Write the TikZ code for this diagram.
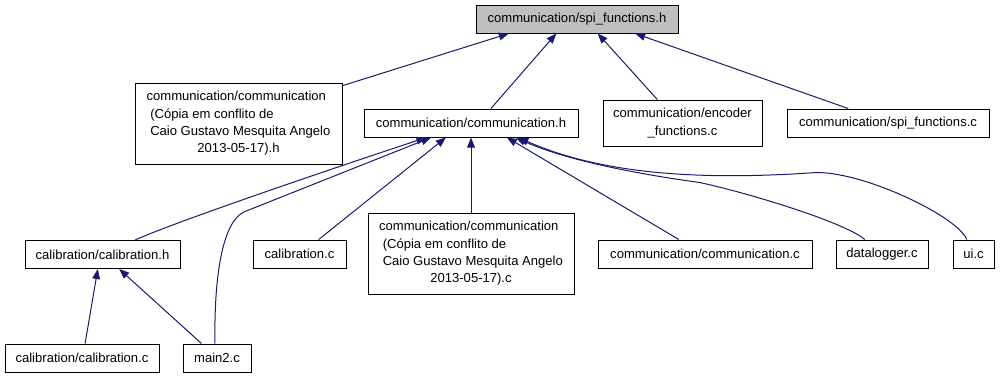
\documentclass[tikz,border=0pt]{standalone}
\usepackage{fontspec}
\newfontfamily\igfont{Liberation Sans}
\usetikzlibrary{arrows.meta}
\definecolor{igedge}{HTML}{191970}
\definecolor{igroot}{HTML}{BFBFBF}
\tikzset{
  igbox/.style={
    draw=black, fill=white, line width=0.75pt, inner sep=0pt,
    align=center, font=\igfont\fontsize{9.8}{13}\selectfont},
  igrow/.style={igbox, minimum height=21pt},
  igedge/.style={
    -{Triangle[length=7.5pt, width=5.8pt]}, draw=igedge,
    line width=0.75pt},
}
% Label of the two conflicted copies, only the extension differs.
\newcommand{\igcopy}[1]{%
  \begin{tabular}{@{}l@{}}
    communication/communication\\
    \ (Cópia em conflito de\\
    \ Caio Gustavo Mesquita Angelo\\
    \multicolumn{1}{@{}c@{}}{2013-05-17).#1}
  \end{tabular}}

\begin{document}
\begin{tikzpicture}[x=0.75pt, y=-0.75pt]
\useasboundingbox (0,0) rectangle (1001,379);

% The header under study.
\node[igrow, fill=igroot, minimum width=151.5pt] (spih) at (577,19)
  {communication/spi\_functions.h};

% Files that include it directly.
\node[igbox, minimum width=155.25pt, minimum height=60.75pt]
  (copyh) at (238.5,123.5) {\igcopy{h}};
\node[igrow, minimum width=160.5pt] (commh) at (471,123)
  {communication/communication.h};
\node[igbox, minimum width=119.25pt, minimum height=34.5pt]
  (encoderc) at (682.5,123) {communication/encoder\\\_functions.c};
\node[igrow, minimum width=151.5pt] (spic) at (888,123)
  {communication/spi\_functions.c};

% Files that include communication.h.
\node[igrow, minimum width=116.25pt] (calh) at (102.5,254.5)
  {calibration/calibration.h};
\node[igrow, minimum width=69.75pt] (calc) at (299.5,254)
  {calibration.c};
\node[igbox, minimum width=154.5pt, minimum height=60.75pt]
  (copyc) at (471,253.5) {\igcopy{c}};
\node[igrow, minimum width=160.5pt] (commc) at (705,254)
  {communication/communication.c};
\node[igrow, minimum width=69pt] (loggerc) at (882,254)
  {datalogger.c};
\node[igrow, minimum width=30.75pt] (uic) at (973.5,254) {ui.c};

% Bottom row.
\node[igrow, minimum width=115.5pt] (calibc) at (82,358)
  {calibration/calibration.c};
\node[igrow, minimum width=51pt] (mainc) at (217,358) {main2.c};

% Edges into spi_functions.h.
\draw[igedge] (copyh.20) -- (spih.192);
\draw[igedge] (commh.36) -- (spih.215);
\draw[igedge] (encoderc.137) -- (spih.325);
\draw[igedge] (spic.160) -- (spih.346);

% Edges into communication.h.
\draw[igedge] (calh.24) .. controls +(40,-18) and +(-100,33) .. (commh.198);
\draw[igedge] (mainc.98) .. controls +(-1,-70) and +(-22,9) .. ++(30,-132)
  -- (commh.200);
\draw[igedge] (calc.37) -- (commh.210);
\draw[igedge] (copyc.north) -- (commh.south);
\draw[igedge] (commc.151) -- (commh.338);
\draw[igedge] (loggerc.140) .. controls +(-18,-16) and +(55,12) .. ++(-165,-57)
  .. controls +(-45,-6) and +(55,25) .. (commh.342);
\draw[igedge] (uic.115) .. controls +(-8,-22) and +(50,0) .. ++(-150,-67)
  .. controls +(-100,7) and +(90,40) .. (commh.343);

% Edges into calibration.h.
\draw[igedge] (calibc.78) -- (calh.252);
\draw[igedge] (mainc.137) -- (calh.319);

\end{tikzpicture}
\end{document}
